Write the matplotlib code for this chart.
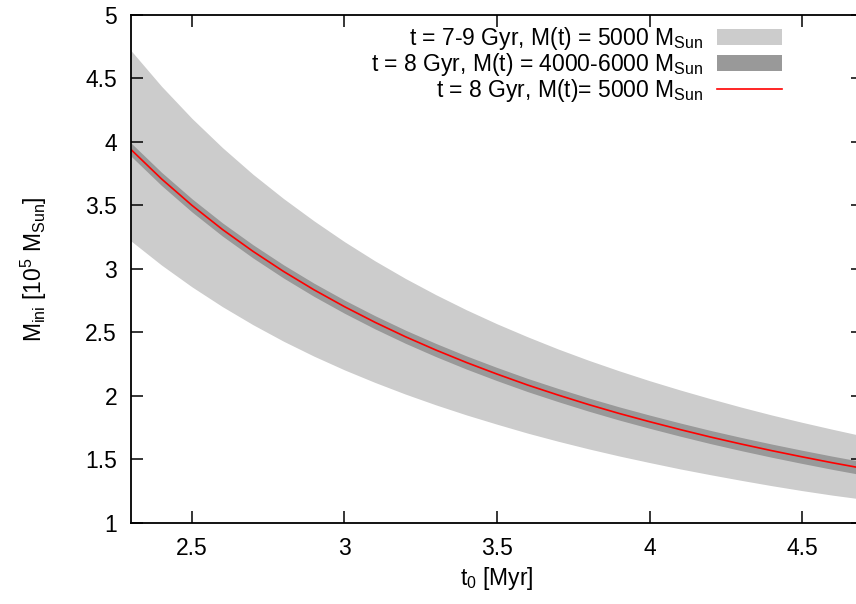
import matplotlib.pyplot as plt

plt.rcParams['font.family'] = ['Liberation Sans', 'DejaVu Sans']
plt.rcParams['mathtext.default'] = 'regular'

# t0 [Myr]
t0 = [2.3, 2.4, 2.5, 2.6, 2.7, 2.8, 2.9, 3.0, 3.1, 3.2, 3.3, 3.4, 3.5,
      3.6, 3.7, 3.8, 3.9, 4.0, 4.1, 4.2, 4.3, 4.4, 4.5, 4.6, 4.7]

# t = 8 Gyr, M(t) = 5000 MSun
m_mid = [3.940, 3.709, 3.500, 3.310, 3.138, 2.980, 2.835, 2.702, 2.579,
         2.465, 2.360, 2.262, 2.171, 2.085, 2.006, 1.931, 1.861, 1.796,
         1.734, 1.675, 1.620, 1.568, 1.519, 1.472, 1.428]

# t = 8 Gyr, M(t) = 4000-6000 MSun
m_dark_lo = [3.888, 3.657, 3.448, 3.258, 3.086, 2.928, 2.783, 2.650, 2.527,
             2.413, 2.308, 2.210, 2.119, 2.033, 1.954, 1.879, 1.809, 1.744,
             1.682, 1.623, 1.568, 1.516, 1.467, 1.420, 1.376]
m_dark_hi = [3.992, 3.761, 3.552, 3.362, 3.190, 3.032, 2.887, 2.754, 2.631,
             2.517, 2.412, 2.314, 2.223, 2.137, 2.058, 1.983, 1.913, 1.848,
             1.786, 1.727, 1.672, 1.620, 1.571, 1.524, 1.480]

# t = 7-9 Gyr, M(t) = 5000 MSun
m_light_lo = [3.220, 3.030, 2.858, 2.702, 2.560, 2.430, 2.312, 2.204, 2.105,
              2.013, 1.928, 1.849, 1.776, 1.706, 1.642, 1.582, 1.526, 1.474,
              1.424, 1.378, 1.334, 1.292, 1.253, 1.217, 1.185]
m_light_hi = [4.720, 4.439, 4.185, 3.955, 3.745, 3.554, 3.378, 3.214, 3.063,
              2.924, 2.796, 2.677, 2.567, 2.465, 2.369, 2.280, 2.197, 2.119,
              2.046, 1.977, 1.911, 1.849, 1.791, 1.736, 1.683]

fig = plt.figure(figsize=(8.56, 6.04), dpi=100)
ax = fig.add_axes([0.153, 0.1346, 0.8552, 0.8406])

ax.fill_between(t0, m_light_lo, m_light_hi, color='#cccccc', lw=0,
                label='t = 7-9 Gyr, M(t) = 5000 M$_{Sun}$')
ax.fill_between(t0, m_dark_lo, m_dark_hi, color='#999999', lw=0,
                label='t = 8 Gyr, M(t) = 4000-6000 M$_{Sun}$')
ax.plot(t0, m_mid, color='red', lw=1.2,
        label='t = 8 Gyr, M(t)= 5000 M$_{Sun}$')

ax.set_xlim(2.3, 4.7)
ax.set_ylim(1, 5)
ax.set_xticks([2.5, 3, 3.5, 4, 4.5])
ax.set_xticklabels(['2.5', '3', '3.5', '4', '4.5'])
ax.set_yticks([1, 1.5, 2, 2.5, 3, 3.5, 4, 4.5, 5])
ax.set_yticklabels(['1', '1.5', '2', '2.5', '3', '3.5', '4', '4.5', '5'])
ax.tick_params(direction='in', length=8.6, width=1.1, labelsize=16.5,
               top=True, right=True, pad=10)
for s in ax.spines.values():
    s.set_linewidth(1.3)

ax.set_xlabel('t$_0$ [Myr]', fontsize=16.5, labelpad=4)
ax.set_ylabel('M$_{ini}$ [10$^5$ M$_{Sun}$]', fontsize=16.5, labelpad=26)

ax.legend(loc='upper right', bbox_to_anchor=(0.904, 1.0), frameon=False,
          markerfirst=False, fontsize=16.5, handlelength=2.85,
          handletextpad=0.6, labelspacing=-0.06, borderaxespad=0.05)

fig.savefig('out.png', dpi=100)
